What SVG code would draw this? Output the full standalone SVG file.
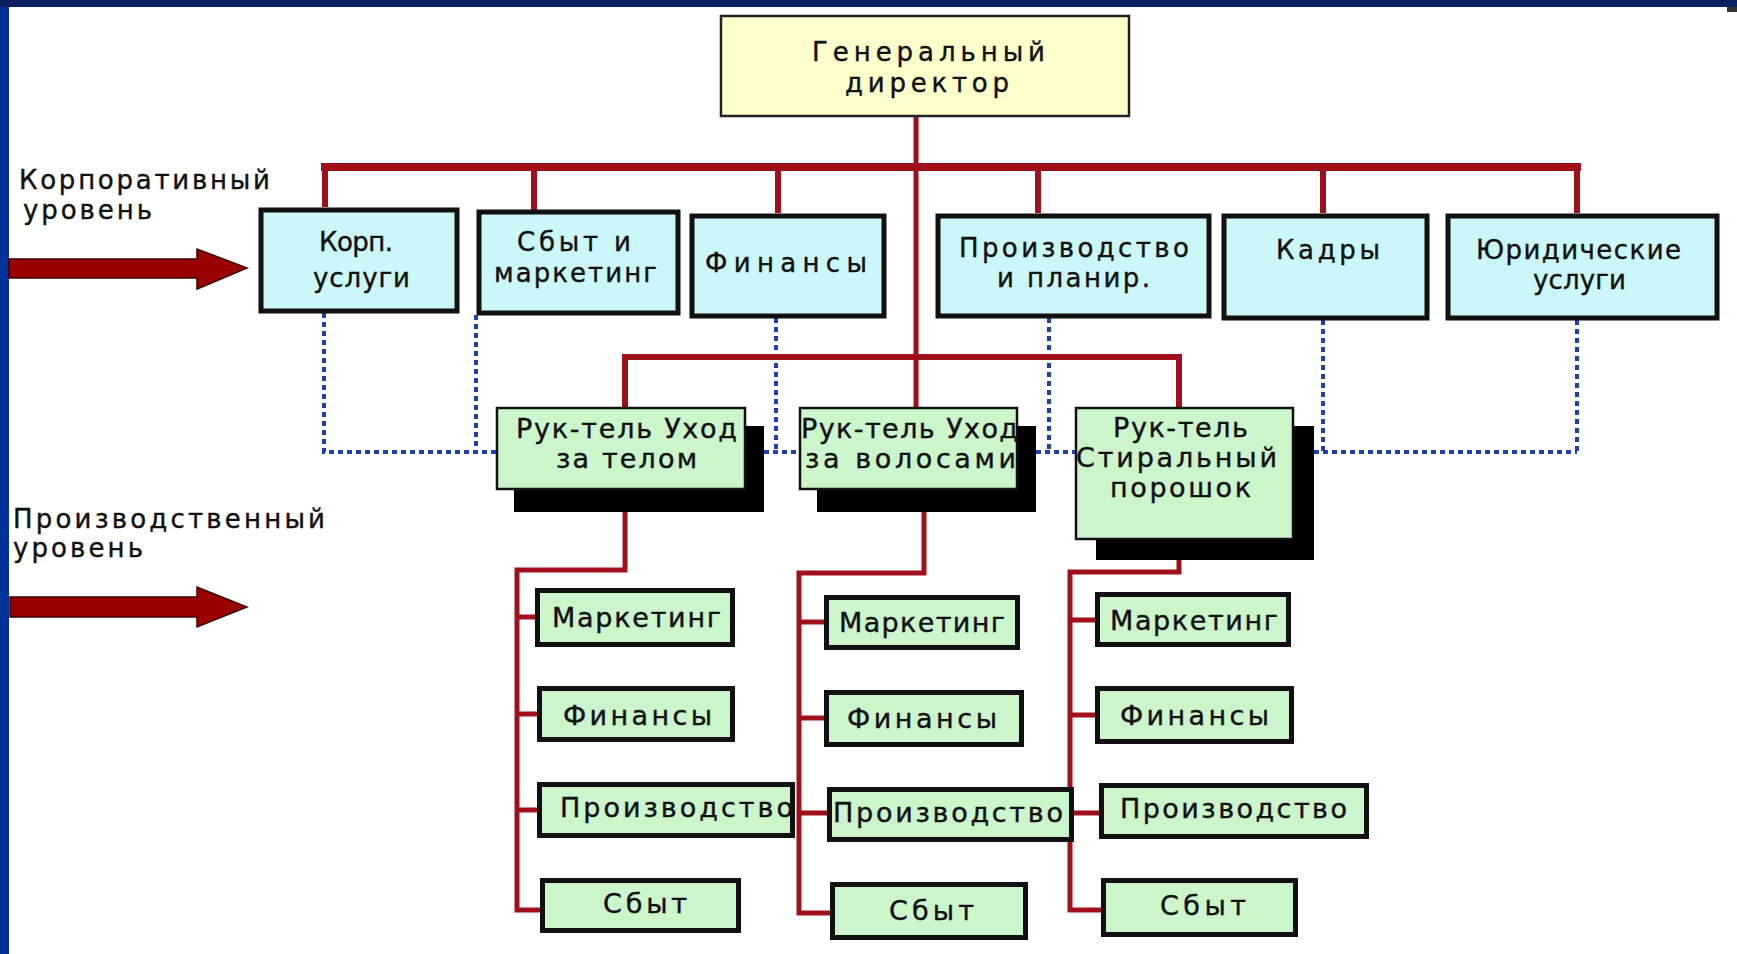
<svg xmlns="http://www.w3.org/2000/svg" width="1737" height="954" viewBox="0 0 1737 954">
<defs>
<style>
.t{font-family:"DejaVu Sans","Liberation Sans",Arial,sans-serif;font-size:26px;fill:#111;stroke:#111;stroke-width:0.4;}
.tg{font-size:26px;}
.ts{font-size:27px;}
.gen{fill:#ffffcc;stroke:#222;stroke-width:2.5;}
.corp{fill:#ccf7fa;stroke:#111;stroke-width:5;}
.mgr{fill:#ccf5cc;stroke:#111;stroke-width:2.5;}
.sub{fill:#ccf5cc;stroke:#111;stroke-width:5;}
.shadow{fill:#000;}
.red{fill:none;stroke:#a0101a;stroke-linejoin:miter;stroke-linecap:butt;}
.dot{fill:none;stroke:#1f3fb0;stroke-width:4;stroke-dasharray:5 4;}
.arrow{fill:#9a0000;stroke:#3a0000;stroke-width:1.5;}
</style>
</defs>
<rect x="0" y="0" width="1737" height="954" fill="#ffffff"/>
<rect x="0" y="0" width="9" height="954" fill="#003399"/>
<rect x="0" y="0" width="1737" height="7" fill="#0c1f5e"/>
<rect x="1727" y="7" width="10" height="5" fill="#333333"/>

<g id="labels">
<text class="t" x="19" y="189" textLength="251" lengthAdjust="spacing">Корпоративный</text>
<text class="t" x="23" y="219" textLength="129" lengthAdjust="spacing">уровень</text>
<text class="t" x="13" y="528" textLength="312" lengthAdjust="spacing">Производственный</text>
<text class="t" x="13" y="557" textLength="130" lengthAdjust="spacing">уровень</text>
</g>
<g id="level-arrows">
<polygon class="arrow" points="9,259 197,259 197,249 247,268 197,289 197,278 9,278"/>
<polygon class="arrow" points="10,597 197,597 197,587 247,607 197,627 197,617 10,617"/>
</g>

<g id="connectors">
<path class="dot" d="M324 313 V452 H496"/>
<path class="dot" d="M476 315 V452"/>
<path class="dot" d="M776 318 V452 M764 452 H800"/>
<path class="dot" d="M1049 318 V452 M1036 452 H1075"/>
<path class="dot" d="M1323 320 V452 M1577 320 V452 M1314 452 H1577"/>
<path class="red" stroke-width="5" d="M916 117 V407"/>
<path class="red" stroke-width="8" d="M321 167 H1581"/>
<path class="red" stroke-width="6" d="M325 167 V207 M534 167 V210 M778 167 V213 M1038 167 V213 M1323 167 V213 M1577 167 V213"/>
<path class="red" stroke-width="6" d="M625 410 V357 H1179 V410"/>
<path class="red" stroke-width="5" d="M625 512 V570 H517 V910 H540 M517 617 H535 M517 714 H537 M517 810 H537"/>
<path class="red" stroke-width="5" d="M924 512 V573 H799 V913 H830 M799 622 H824 M799 718 H824 M799 813 H827"/>
<path class="red" stroke-width="5" d="M1179 560 V572 H1070 V910 H1101 M1070 620 H1095 M1070 715 H1095 M1070 813 H1099"/>
</g>

<g id="gen-director">
<rect class="gen" x="721" y="16" width="408" height="100"/>
<text class="t tg" x="812" y="61" textLength="233" lengthAdjust="spacing">Генеральный</text>
<text class="t tg" x="845" y="92" textLength="164" lengthAdjust="spacing">директор</text>
</g>

<g id="corp-services">
<rect class="corp" x="261" y="210" width="196" height="101"/>
<text class="t" x="319" y="251" textLength="74" lengthAdjust="spacing">Корп.</text>
<text class="t" x="313" y="287" textLength="97" lengthAdjust="spacing">услуги</text>
</g>
<g id="sales-marketing">
<rect class="corp" x="479" y="212" width="199" height="101"/>
<text class="t" x="517" y="251" textLength="114" lengthAdjust="spacing">Сбыт и</text>
<text class="t" x="494" y="282" textLength="163" lengthAdjust="spacing">маркетинг</text>
</g>
<g id="finance">
<rect class="corp" x="692" y="216" width="192" height="100"/>
<text class="t" x="705" y="272" textLength="162" lengthAdjust="spacing">Финансы</text>
</g>
<g id="production-planning">
<rect class="corp" x="938" y="216" width="271" height="100"/>
<text class="t" x="959" y="257" textLength="230" lengthAdjust="spacing">Производство</text>
<text class="t" x="997" y="287" textLength="153" lengthAdjust="spacing">и планир.</text>
</g>
<g id="hr">
<rect class="corp" x="1224" y="216" width="203" height="102"/>
<text class="t" x="1276" y="259" textLength="104" lengthAdjust="spacing">Кадры</text>
</g>
<g id="legal">
<rect class="corp" x="1448" y="216" width="269" height="102"/>
<text class="t" x="1476" y="259" textLength="205" lengthAdjust="spacing">Юридические</text>
<text class="t" x="1533" y="289" textLength="93" lengthAdjust="spacing">услуги</text>
</g>

<g id="mgr-body">
<rect class="shadow" x="514" y="426" width="250" height="86"/>
<rect class="mgr" x="497" y="408" width="248" height="81"/>
<text class="t ts" x="516" y="438" textLength="221" lengthAdjust="spacing">Рук-тель Уход</text>
<text class="t ts" x="556" y="468" textLength="141" lengthAdjust="spacing">за телом</text>
</g>
<g id="mgr-hair">
<rect class="shadow" x="817" y="426" width="219" height="86"/>
<rect class="mgr" x="800" y="408" width="217" height="81"/>
<text class="t ts" x="801" y="438" textLength="217" lengthAdjust="spacing">Рук-тель Уход</text>
<text class="t ts" x="805" y="468" textLength="211" lengthAdjust="spacing">за волосами</text>
</g>
<g id="mgr-powder">
<rect class="shadow" x="1096" y="426" width="218" height="134"/>
<rect class="mgr" x="1076" y="408" width="217" height="131"/>
<text class="t ts" x="1113" y="437" textLength="135" lengthAdjust="spacing">Рук-тель</text>
<text class="t ts" x="1076" y="467" textLength="201" lengthAdjust="spacing">Стиральный</text>
<text class="t ts" x="1110" y="497" textLength="141" lengthAdjust="spacing">порошок</text>
</g>

<g id="body-marketing"><rect class="sub" x="537.5" y="590.5" width="195" height="54"/><text class="t ts" x="552" y="627" textLength="169" lengthAdjust="spacing">Маркетинг</text></g>
<g id="body-finance"><rect class="sub" x="539.5" y="688.5" width="193" height="51"/><text class="t ts" x="563" y="725" textLength="149" lengthAdjust="spacing">Финансы</text></g>
<g id="body-production"><rect class="sub" x="539.5" y="784.5" width="253" height="51"/><text class="t ts" x="560" y="817" textLength="233" lengthAdjust="spacing">Производство</text></g>
<g id="body-sales"><rect class="sub" x="542.5" y="880.5" width="196" height="50"/><text class="t ts" x="603" y="913" textLength="84" lengthAdjust="spacing">Сбыт</text></g>

<g id="hair-marketing"><rect class="sub" x="826.5" y="597.5" width="191" height="50"/><text class="t ts" x="839" y="632" textLength="166" lengthAdjust="spacing">Маркетинг</text></g>
<g id="hair-finance"><rect class="sub" x="826.5" y="692.5" width="195" height="52"/><text class="t ts" x="847" y="728" textLength="150" lengthAdjust="spacing">Финансы</text></g>
<g id="hair-production"><rect class="sub" x="829.5" y="789.5" width="242" height="50"/><text class="t ts" x="833" y="822" textLength="230" lengthAdjust="spacing">Производство</text></g>
<g id="hair-sales"><rect class="sub" x="832.5" y="884.5" width="193" height="53"/><text class="t ts" x="889" y="920" textLength="85" lengthAdjust="spacing">Сбыт</text></g>

<g id="powder-marketing"><rect class="sub" x="1097.5" y="594.5" width="191" height="50"/><text class="t ts" x="1110" y="630" textLength="168" lengthAdjust="spacing">Маркетинг</text></g>
<g id="powder-finance"><rect class="sub" x="1097.5" y="688.5" width="194" height="53"/><text class="t ts" x="1120" y="725" textLength="149" lengthAdjust="spacing">Финансы</text></g>
<g id="powder-production"><rect class="sub" x="1101.5" y="785.5" width="265" height="51"/><text class="t ts" x="1120" y="818" textLength="227" lengthAdjust="spacing">Производство</text></g>
<g id="powder-sales"><rect class="sub" x="1103.5" y="880.5" width="192" height="54"/><text class="t ts" x="1160" y="915" textLength="86" lengthAdjust="spacing">Сбыт</text></g>
</svg>
